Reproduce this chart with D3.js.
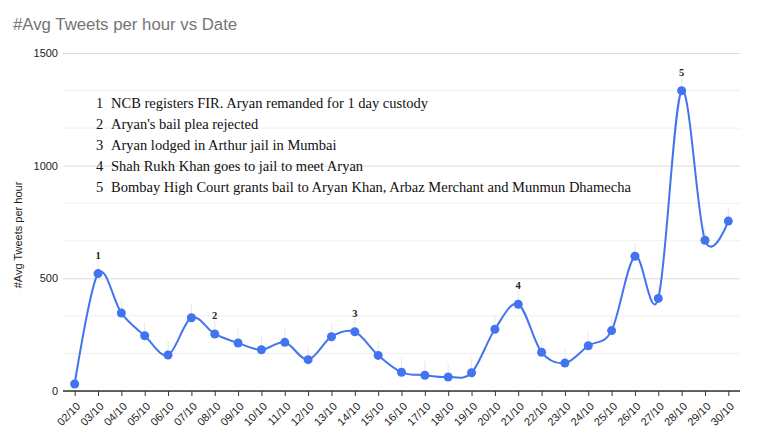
<!DOCTYPE html>
<html>
<head>
<meta charset="utf-8">
<script src="https://cdn.jsdelivr.net/npm/d3@7"></script>
<style>
  body { margin: 0; background: #fff; }
  svg { display: block; font-family: "Liberation Sans", Arial, sans-serif; }
</style>
</head>
<body>
<div id="chart"></div>
<script>
// data
const dates = ['02/10', '03/10', '04/10', '05/10', '06/10', '07/10', '08/10', '09/10', '10/10', '11/10',
  '12/10', '13/10', '14/10', '15/10', '16/10', '17/10', '18/10', '19/10', '20/10', '21/10',
  '22/10', '23/10', '24/10', '25/10', '26/10', '27/10', '28/10', '29/10', '30/10'];
const tweets = [31, 521, 346, 245, 160, 325, 253, 213, 183, 216,
  139, 241, 263, 158, 83, 70, 62, 81, 274, 385,
  172, 124, 201, 268, 598, 411, 1333, 669, 754];
const markers = [['03/10', '1'], ['08/10', '2'], ['14/10', '3'], ['21/10', '4'], ['28/10', '5']];
const events = [
  'NCB registers FIR. Aryan remanded for 1 day custody',
  "Aryan's bail plea rejected",
  'Aryan lodged in Arthur jail in Mumbai',
  'Shah Rukh Khan goes to jail to meet Aryan',
  'Bombay High Court grants bail to Aryan Khan, Arbaz Merchant and Munmun Dhamecha'
];
const yTicks = [0, 500, 1000, 1500];

const width = 762, height = 445;
let [mt, mr, mb, ml] = [53, 22, 54, 63];

const svg = d3.select('#chart').append('svg')
  .attr('width', width)
  .attr('height', height);

const x = d3.scalePoint()
  .domain(dates)
  .range([ml, width - mr])
  .padding(0.5);

const y = d3.scaleLinear()
  .domain([0, 1500])
  .range([height - mb, mt]);

// title
svg.append('text')
  .attr('x', 13)
  .attr('y', 30)
  .attr('fill', '#757575')
  .style('font-size', '16.8px')
  .text('#Avg Tweets per hour vs Date');

// minor gridlines (thirds between the major ones)
const minor = d3.range(0, 1500, 500 / 3).filter((d, i) => i % 3 !== 0);
svg.append('g')
  .selectAll('line')
  .data(minor)
  .join('line')
  .attr('x1', ml).attr('x2', width - mr)
  .attr('y1', d => y(d)).attr('y2', d => y(d))
  .attr('stroke', '#efefef');

// y axis + major gridlines
const yAxis = svg.append('g')
  .attr('transform', `translate(${ml},0)`)
  .call(d3.axisLeft(y).tickValues(yTicks).tickFormat(d3.format('d'))
    .tickSize(-(width - mr - ml)).tickPadding(5));
yAxis.select('.domain').remove();
yAxis.selectAll('.tick line').attr('stroke', '#dcdcdc');
yAxis.selectAll('.tick text')
  .attr('fill', '#222')
  .style('font-size', '11px')
  .style('font-family', '"Liberation Sans", Arial, sans-serif');

svg.append('text')
  .attr('transform', `translate(22,${(mt + height - mb) / 2 + 13}) rotate(-90)`)
  .attr('text-anchor', 'middle')
  .attr('fill', '#222')
  .style('font-size', '11px')
  .text('#Avg Tweets per hour');

// x axis
const xAxis = svg.append('g')
  .attr('transform', `translate(0,${y(0)})`)
  .call(d3.axisBottom(x).tickSize(5).tickSizeOuter(0));
xAxis.select('.domain')
  .attr('d', `M${ml},0H${width - mr}`)
  .attr('stroke', '#333')
  .attr('stroke-width', 1.5);
xAxis.selectAll('.tick line').attr('stroke', '#333');
xAxis.selectAll('.tick text')
  .attr('fill', '#222')
  .style('font-size', '11px')
  .style('font-family', '"Liberation Sans", Arial, sans-serif')
  .attr('text-anchor', 'end')
  .attr('dy', '0.3em')
  .attr('transform', 'translate(-2,8) rotate(-45)');

// faint annotation stems above each point
svg.append('g')
  .selectAll('line')
  .data(dates)
  .join('line')
  .attr('x1', d => x(d)).attr('x2', d => x(d))
  .attr('y1', (d, i) => y(tweets[i]))
  .attr('y2', (d, i) => y(tweets[i]) - 14)
  .attr('stroke', '#e8e8e8');

// line
const line = d3.line()
  .x((d, i) => x(dates[i]))
  .y(d => y(d))
  .curve(d3.curveCardinal.tension(0));

svg.append('path')
  .datum(tweets)
  .attr('fill', 'none')
  .attr('stroke', '#4374f0')
  .attr('stroke-width', 2)
  .attr('d', line);

svg.append('g')
  .selectAll('circle')
  .data(tweets)
  .join('circle')
  .attr('cx', (d, i) => x(dates[i]))
  .attr('cy', d => y(d))
  .attr('r', 4.5)
  .attr('fill', '#4374f0');

// numbered markers
svg.append('g')
  .selectAll('text')
  .data(markers)
  .join('text')
  .attr('x', d => x(d[0]))
  .attr('y', d => y(tweets[dates.indexOf(d[0])]) - 15)
  .attr('text-anchor', 'middle')
  .attr('fill', '#222')
  .style('font', 'bold 10.5px "Liberation Serif", serif')
  .text(d => d[1]);

// event legend
const legend = svg.append('g')
  .style('font', '14.5px "Liberation Serif", serif')
  .attr('fill', '#111');
legend.selectAll('text')
  .data(events)
  .join('text')
  .attr('x', 96)
  .attr('y', (d, i) => 108 + i * 21)
  .call(t => t.append('tspan').text((d, i) => i + 1))
  .call(t => t.append('tspan').attr('x', 111).text(d => d));
</script>
</body>
</html>
